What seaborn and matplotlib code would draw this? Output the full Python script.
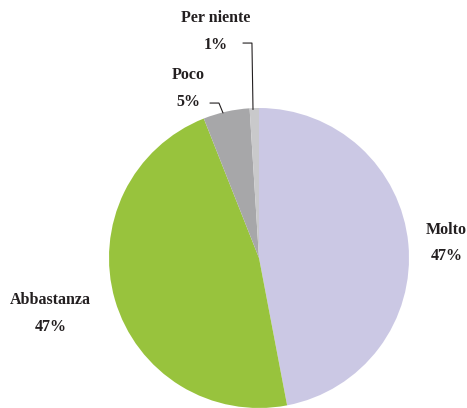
import matplotlib
matplotlib.use("Agg")
import matplotlib.pyplot as plt
import seaborn as sns

sns.set_theme(style="white")
plt.rcParams["font.family"] = ["Liberation Serif", "DejaVu Serif"]

categories = ["Molto", "Abbastanza", "Poco", "Per niente"]
values = [47, 47, 5, 1]
colors = ["#CBC8E4", "#98C33D", "#A7A7A9", "#C9C9CB"]

fig = plt.figure(figsize=(4.67, 4.08), dpi=100)
ax = fig.add_axes([109 / 467, 0.0, 300 / 467, 300 / 408])

ax.pie(values, colors=colors, startangle=90, counterclock=False,
       radius=1.0, wedgeprops=dict(linewidth=0))
ax.set_xlim(-1, 1)
ax.set_ylim(-1, 1)
ax.set_aspect("equal")
ax.axis("off")

txt_color = "#231F20"
label_pos = {
    "Molto": (1.25, 0.10),
    "Abbastanza": (-1.39, -0.37),
    "Poco": (-0.47, 1.13),
    "Per niente": (-0.29, 1.51),
}
for name, v in zip(categories, values):
    x, y = label_pos[name]
    ax.text(x, y, f"{name}\n{v}%", ha="center", va="center",
            fontsize=11.5, fontweight="bold", color=txt_color,
            linespacing=1.85, clip_on=False)

# leader lines for the two small slices
ax.plot([-0.107, -0.047, -0.04], [1.433, 1.433, 0.99],
        color="#231F20", lw=0.8, clip_on=False)
ax.plot([-0.327, -0.267, -0.24], [1.033, 1.033, 0.967],
        color="#231F20", lw=0.8, clip_on=False)

fig.savefig("out.png", dpi=100, facecolor="white")
